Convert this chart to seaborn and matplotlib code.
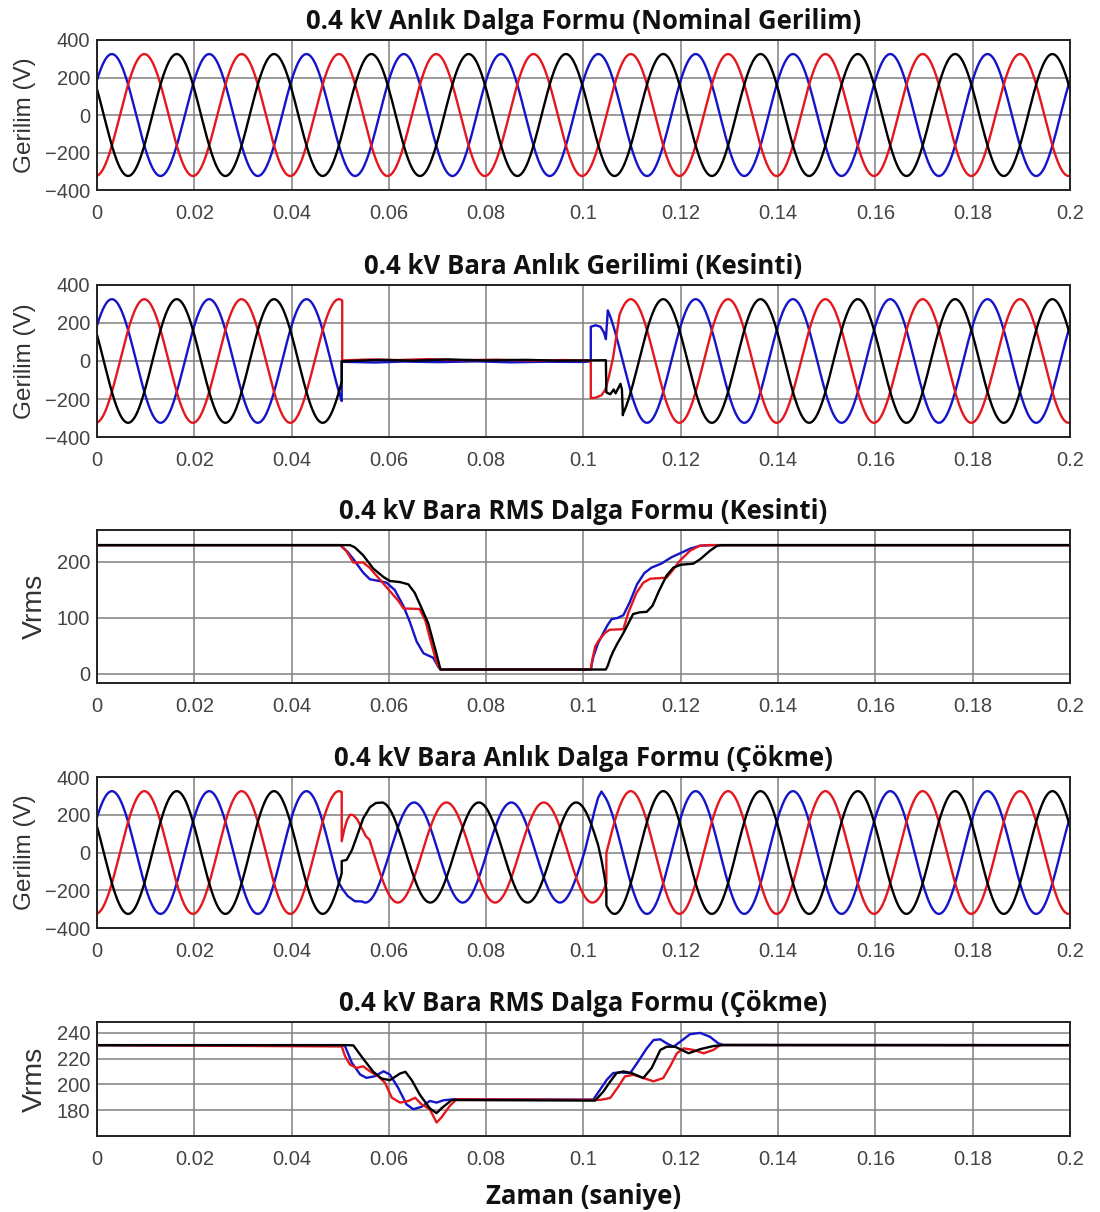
import numpy as np
import pandas as pd
import matplotlib
matplotlib.use("Agg")
import matplotlib.pyplot as plt
import seaborn as sns

# --- veri -----------------------------------------------------------------
FREQ = 50.0          # Hz
V_PEAK = 325.0       # nominal tepe gerilimi (V)
SAG_PEAK = 265.0     # cokme sirasindaki tepe gerilimi (V)
SAG_SHIFT = -38.0    # cokme sirasindaki faz kaymasi (derece)
DT = 0.00005

faz_acilari = {"kirmizi": -85.0, "mavi": 35.0, "siyah": 155.0}
renkler = {"kirmizi": "#e3171e", "mavi": "#1414c8", "siyah": "#000000"}

basliklar = [
    "0.4 kV Anlık Dalga Formu (Nominal Gerilim)",
    "0.4 kV Bara Anlık Gerilimi (Kesinti)",
    "0.4 kV Bara RMS Dalga Formu (Kesinti)",
    "0.4 kV Bara Anlık Dalga Formu (Çökme)",
    "0.4 kV Bara RMS Dalga Formu (Çökme)",
]
x_ticks = [0, 0.02, 0.04, 0.06, 0.08, 0.1, 0.12, 0.14, 0.16, 0.18, 0.2]
x_tick_labels = ["0", "0.02", "0.04", "0.06", "0.08", "0.1", "0.12", "0.14", "0.16", "0.18", "0.2"]
v_ticks = [-400, -200, 0, 200, 400]
rms_kesinti_ticks = [0, 100, 200]
rms_cokme_ticks = [180, 200, 220, 240]

# kesinti (anlik) - gecis bolgesi noktalari
kes_kirmizi = [(0.0504, 3), (0.056, 8), (0.062, 5), (0.068, 10), (0.075, 4), (0.082, 7),
               (0.090, 2), (0.096, 5), (0.1015, 2), (0.1015, -195), (0.1025, -193),
               (0.1037, -180), (0.1045, -150), (0.1052, -85), (0.1061, 20), (0.1068, 140)]
kes_mavi = [(0.0503, -4), (0.057, -8), (0.063, -3), (0.070, -6), (0.078, -2), (0.085, -7),
            (0.092, -4), (0.100, -5), (0.1015, -2), (0.1015, 180), (0.1025, 188),
            (0.1035, 180), (0.1042, 150), (0.1046, 115)]
kes_siyah = [(0.0503, -2), (0.058, 6), (0.065, 2), (0.072, 8), (0.080, 3), (0.088, 6),
             (0.095, 2), (0.1046, 4), (0.1047, -165), (0.1055, -175), (0.1062, -150),
             (0.1066, -170), (0.1076, -120), (0.1079, -150), (0.1081, -285)]

# cokme (anlik) - gecis bolgesi noktalari
cok_kirmizi = [(0.0503, 60), (0.0508, 120), (0.0514, 172), (0.0520, 200), (0.0527, 198),
               (0.0535, 175), (0.0545, 125), (0.0553, 85)]
cok_mavi_1 = [(0.0505, -195), (0.0515, -230), (0.0530, -258)]
cok_mavi_2 = [(0.1013, 115), (0.1022, 215), (0.1030, 290), (0.1037, 323)]
cok_siyah_1 = [(0.0503, -45), (0.0513, -39), (0.0524, 13), (0.0534, 84), (0.0547, 180),
               (0.0561, 240), (0.0573, 262)]
cok_siyah_2 = [(0.1022, 105), (0.1030, 40), (0.1037, -40), (0.1043, -125), (0.1047, -195)]

# kesinti RMS
rms_kes_mavi = [(0, 230), (0.0500, 230), (0.0515, 218), (0.0527, 205), (0.0547, 181),
                (0.0561, 169), (0.0580, 166), (0.0595, 163), (0.0612, 150), (0.0630, 121),
                (0.0643, 93), (0.0657, 58), (0.0671, 37), (0.0691, 29), (0.0702, 12),
                (0.0708, 8), (0.1015, 8), (0.1020, 30), (0.1030, 55), (0.1040, 72),
                (0.1050, 88), (0.1058, 98), (0.1070, 100), (0.1082, 105), (0.1095, 128),
                (0.1110, 160), (0.1125, 180), (0.1140, 190), (0.1160, 197), (0.1180, 208),
                (0.1200, 216), (0.1220, 224), (0.1240, 229), (0.1260, 230), (0.2, 230)]
rms_kes_kirmizi = [(0, 230), (0.0500, 230), (0.0512, 220), (0.0527, 199), (0.0547, 199),
                   (0.0560, 190), (0.0580, 170), (0.0600, 150), (0.0620, 130), (0.0630, 117),
                   (0.0663, 116), (0.0675, 95), (0.0685, 62), (0.0698, 20), (0.0705, 8),
                   (0.1015, 8), (0.1018, 25), (0.1024, 49), (0.1030, 58), (0.1037, 66),
                   (0.1045, 74), (0.1054, 79), (0.1082, 80), (0.1092, 109), (0.1109, 145),
                   (0.1123, 163), (0.1137, 170), (0.1171, 172), (0.1185, 187), (0.1198, 202),
                   (0.1219, 220), (0.1239, 229), (0.1260, 230), (0.2, 230)]
rms_kes_siyah = [(0, 230), (0.0520, 230), (0.0530, 226), (0.0547, 212), (0.0568, 188),
                 (0.0589, 173), (0.0602, 166), (0.0623, 164), (0.0640, 160), (0.0653, 145),
                 (0.0667, 118), (0.0681, 90), (0.0695, 45), (0.0706, 8), (0.1046, 8),
                 (0.1050, 15), (0.1055, 28), (0.1061, 40), (0.1070, 55), (0.1082, 73),
                 (0.1095, 95), (0.1102, 107), (0.1115, 110), (0.1130, 111), (0.1142, 122),
                 (0.1155, 148), (0.1171, 176), (0.1185, 190), (0.1200, 195), (0.1226, 197),
                 (0.1240, 205), (0.1260, 220), (0.1275, 229), (0.1285, 230), (0.2, 230)]

# cokme RMS
rms_cok_mavi = [(0, 230.5), (0.0505, 230.5), (0.0510, 229.5), (0.0524, 216.7), (0.0541, 207.7),
                (0.0554, 205.1), (0.0571, 206.4), (0.0589, 210.2), (0.0602, 207.7),
                (0.0619, 197.4), (0.0636, 184.6), (0.0650, 180.8), (0.0667, 182.6),
                (0.0684, 187.2), (0.0698, 185.9), (0.0712, 187.7), (0.0733, 188.5),
                (0.1020, 188.2), (0.1034, 195.9), (0.1048, 203.7), (0.1061, 208.8),
                (0.1075, 209.4), (0.1096, 208.8), (0.1110, 216.5), (0.1130, 228),
                (0.1144, 234.5), (0.1158, 235), (0.1171, 231.9), (0.1185, 229.3),
                (0.1199, 233.2), (0.1219, 239), (0.1240, 240), (0.1260, 237),
                (0.1277, 231.9), (0.1288, 230.6), (0.2, 230.5)]
rms_cok_kirmizi = [(0, 230.5), (0.0503, 229.5), (0.0510, 221.8), (0.0520, 215.4),
                   (0.0534, 212.8), (0.0547, 214.1), (0.0561, 210.2), (0.0578, 206.4),
                   (0.0592, 201.3), (0.0606, 189.7), (0.0623, 185.9), (0.0640, 187.2),
                   (0.0654, 189.7), (0.0667, 184.6), (0.0684, 180.8), (0.0698, 170.5),
                   (0.0708, 174.4), (0.0725, 183.3), (0.0739, 188.5), (0.1034, 188),
                   (0.1055, 189.5), (0.1072, 198.5), (0.1085, 206.2), (0.1103, 207.5),
                   (0.1123, 205), (0.1144, 202.4), (0.1164, 205), (0.1178, 214),
                   (0.1192, 224.2), (0.1206, 228), (0.1226, 226.8), (0.1247, 224.2),
                   (0.1267, 226.8), (0.1281, 230.6), (0.2, 230.5)]
rms_cok_siyah = [(0, 230.5), (0.0515, 230.5), (0.0527, 230.3), (0.0547, 220),
                 (0.0568, 209.8), (0.0585, 204.6), (0.0602, 203.3), (0.0623, 208.5),
                 (0.0634, 209.8), (0.0647, 203.3), (0.0664, 191.8), (0.0684, 181.5),
                 (0.0698, 177.7), (0.0708, 181.5), (0.0729, 187.9), (0.0746, 187.9),
                 (0.1024, 187.5), (0.1041, 194.6), (0.1055, 202.3), (0.1068, 208.8),
                 (0.1082, 210.1), (0.1099, 208.8), (0.1123, 205), (0.1140, 212.7),
                 (0.1158, 226.8), (0.1171, 229.3), (0.1188, 229.3), (0.1216, 224.2),
                 (0.1240, 227.4), (0.1267, 229.8), (0.1288, 230.6), (0.2, 230.5)]

# her faz icin parca listeleri: ("sin", t0, t1, tepe, kayma) ya da ("pts", noktalar)
nominal = {k: [("sin", 0, 0.2, V_PEAK, 0)] for k in faz_acilari}
kesinti = {
    "kirmizi": [("sin", 0, 0.0504, V_PEAK, 0), ("pts", kes_kirmizi), ("sin", 0.1074, 0.2, V_PEAK, 0)],
    "mavi": [("sin", 0, 0.0503, V_PEAK, 0), ("pts", kes_mavi), ("sin", 0.1050, 0.2, V_PEAK, 0)],
    "siyah": [("sin", 0, 0.0503, V_PEAK, 0), ("pts", kes_siyah), ("sin", 0.1081, 0.2, V_PEAK, 0)],
}
cokme = {
    "kirmizi": [("sin", 0, 0.0503, V_PEAK, 0), ("pts", cok_kirmizi),
                ("sin", 0.0560, 0.1047, SAG_PEAK, SAG_SHIFT), ("sin", 0.1047, 0.2, V_PEAK, 0)],
    "mavi": [("sin", 0, 0.0497, V_PEAK, 0), ("pts", cok_mavi_1),
             ("sin", 0.0545, 0.1003, SAG_PEAK, SAG_SHIFT), ("pts", cok_mavi_2),
             ("sin", 0.1045, 0.2, V_PEAK, 0)],
    "siyah": [("sin", 0, 0.0503, V_PEAK, 0), ("pts", cok_siyah_1),
              ("sin", 0.0585, 0.1015, SAG_PEAK, SAG_SHIFT), ("pts", cok_siyah_2),
              ("sin", 0.1047, 0.2, V_PEAK, 0)],
}
rms_kesinti = {"mavi": rms_kes_mavi, "kirmizi": rms_kes_kirmizi, "siyah": rms_kes_siyah}
rms_cokme = {"mavi": rms_cok_mavi, "kirmizi": rms_cok_kirmizi, "siyah": rms_cok_siyah}


def dalga(parcalar, faz):
    ts, vs = [], []
    for p in parcalar:
        if p[0] == "sin":
            _, t0, t1, tepe, kayma = p
            t = np.append(np.arange(t0, t1, DT), t1)
            v = tepe * np.sin(2 * np.pi * FREQ * t + np.radians(faz + kayma))
        else:
            t = np.array([a for a, b in p[1]])
            v = np.array([b for a, b in p[1]], dtype=float)
        ts.append(t)
        vs.append(v)
    return pd.DataFrame({"t": np.concatenate(ts), "v": np.concatenate(vs)})


def noktalar(liste):
    return pd.DataFrame({"t": [a for a, b in liste], "v": [b for a, b in liste]})


sns.set_style("white")
plt.rcParams["font.family"] = ["Liberation Sans", "DejaVu Sans"]
baslik_font = ["Open Sans", "DejaVu Sans"]

fig = plt.figure(figsize=(11, 12.12), dpi=100)
eksenler = [fig.add_axes([0.0882, alt, 0.8845, ust - alt]) for ust, alt in
            [(0.967, 0.8432), (0.7649, 0.6394), (0.5627, 0.4365), (0.3589, 0.2343), (0.1568, 0.0627)]]

sira = ["mavi", "kirmizi", "siyah"]
for i, ax in enumerate(eksenler):
    if i in (0, 1, 3):
        veri = [nominal, kesinti, None, cokme][i]
        for k in sira:
            df = dalga(veri[k], faz_acilari[k])
            sns.lineplot(data=df, x="t", y="v", color=renkler[k], lw=1.7,
                         estimator=None, sort=False, ax=ax)
        ax.set_ylim(-400, 400)
        ax.set_yticks(v_ticks)
        ax.set_ylabel("Gerilim (V)", fontsize=17.5, color="#333333")
        ax.yaxis.set_label_coords(-0.063, 0.5)
    else:
        veri = rms_kesinti if i == 2 else rms_cokme
        for k in sira:
            sns.lineplot(data=noktalar(veri[k]), x="t", y="v", color=renkler[k], lw=1.7,
                         estimator=None, sort=False, ax=ax)
        if i == 2:
            ax.set_ylim(-16, 257)
            ax.set_yticks(rms_kesinti_ticks)
        else:
            ax.set_ylim(160, 248.5)
            ax.set_yticks(rms_cokme_ticks)
        ax.set_ylabel("Vrms", fontsize=20.5, color="#333333")
        ax.yaxis.set_label_coords(-0.05, 0.5)

    ax.set_xlim(0, 0.2)
    ax.set_xticks(x_ticks)
    ax.set_xticklabels(x_tick_labels)
    ax.set_xlabel("")
    ax.grid(True, color="#808080", lw=1.1)
    ax.set_axisbelow(True)
    ax.tick_params(direction="in", length=5, width=1, labelsize=14.5,
                   labelcolor="#444444", colors="#333333", pad=10)
    ax.tick_params(axis="y", pad=5)
    for s in ax.spines.values():
        s.set_color("#222222")
        s.set_linewidth(1.4)
    ax.set_title(basliklar[i], fontsize=18.5, fontweight="bold", family=baslik_font,
                 pad=8, color="#111111")

eksenler[-1].set_xlabel("Zaman (saniye)", fontsize=18.5, fontweight="bold",
                        family=baslik_font, color="#111111", labelpad=10)

fig.savefig("out.png", dpi=100)
